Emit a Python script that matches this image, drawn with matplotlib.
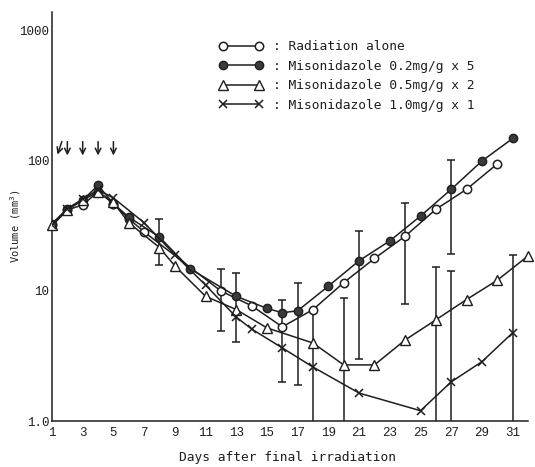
import matplotlib
matplotlib.use("Agg")
import matplotlib.pyplot as plt

# ---------------- data ----------------
days_open = [1, 2, 3, 4, 5, 6, 7, 12, 14, 16, 18, 20, 22, 24, 26, 28, 30]
vol_open = [32, 42, 46, 58, 47, 36, 28.5, 10, 7.7, 5.3, 7.2, 11.6, 17.8, 26.4, 42.5, 60.6, 95]

days_filled = [1, 2, 3, 4, 5, 6, 8, 10, 13, 15, 16, 17, 19, 21, 23, 25, 27, 29, 31]
vol_filled = [33, 43, 50, 65, 47, 37, 26, 14.8, 9.1, 7.35, 6.8, 7.05, 10.9, 17.1, 24.3, 37.7, 60.6, 100, 149]

days_tri = [1, 2, 3, 4, 5, 6, 8, 9, 11, 13, 15, 18, 20, 22, 24, 26, 28, 30, 32]
vol_tri = [32, 42, 50, 58, 48, 33.5, 21.6, 15.6, 9.1, 7.2, 5.2, 3.98, 2.7, 2.7, 4.2, 6.0, 8.6, 12.1, 18.6]

days_x = [1, 2, 3, 4, 5, 7, 9, 11, 13, 14, 16, 18, 21, 25, 27, 29, 31]
vol_x = [32, 43, 51, 60, 52, 33.5, 19, 11.1, 6.3, 5.1, 3.65, 2.6, 1.64, 1.2, 2.0, 2.86, 4.77]

err_days = [8, 12, 13, 16, 17, 18, 20, 21, 24, 26, 27, 27, 31]
err_low = [15.8, 4.9, 4.07, 2.0, 1.89, 0.5, 0.5, 2.98, 7.9, 0.5, 19.1, 0.5, 0.5]
err_high = [36, 14.7, 13.7, 8.5, 11.6, 7.2, 8.8, 29, 47.5, 15.4, 101, 14.3, 18.9]

arrow_days = [1, 2, 3, 4, 5]

labels = [": Radiation alone",
          ": Misonidazole 0.2mg/g x 5",
          ": Misonidazole 0.5mg/g x 2",
          ": Misonidazole 1.0mg/g x 1"]

xtick_vals = list(range(1, 32, 2))
ytick_vals = [1, 10, 100, 1000]
ytick_labels = ["1.0", "10", "100", "1000"]

# ---------------- figure ----------------
ink = "#1e1e1e"
fig = plt.figure(figsize=(5.35, 4.67), dpi=100)
ax = fig.add_axes([52/535, 1-421/467, 476/535, 409/467])
ax.set_yscale("log")
ax.set_xlim(1, 32)
ax.set_ylim(1.0, 1400)

lw = 1.1
ms = 6.0
h_open, = ax.plot(days_open, vol_open, '-', color=ink, lw=lw, marker='o', ms=ms,
                  mfc='white', mec=ink, mew=1.1, zorder=4)
h_fill, = ax.plot(days_filled, vol_filled, '-', color=ink, lw=lw, marker='o', ms=ms,
                  mfc='#3a3a3a', mec=ink, mew=1.0, zorder=4)
h_tri, = ax.plot(days_tri, vol_tri, '-', color=ink, lw=lw, marker='^', ms=ms+0.5,
                 mfc='white', mec=ink, mew=1.0, zorder=4, clip_on=False)
h_x, = ax.plot(days_x, vol_x, '-', color=ink, lw=lw, marker='x', ms=ms,
               mec=ink, mew=1.1, zorder=4)

for d, lo, hi in zip(err_days, err_low, err_high):
    ax.errorbar([d], [lo], yerr=[[0], [hi - lo]], fmt='none', ecolor=ink,
                elinewidth=1.1, capsize=3, capthick=1.1, zorder=3)

# irradiation arrows
for i, d in enumerate(arrow_days):
    if i == 0:
        ax.annotate("", xy=(d + 0.3, 107), xytext=(d + 0.7, 148),
                    arrowprops=dict(arrowstyle='->', color=ink, lw=1.1))
    else:
        ax.annotate("", xy=(d, 105), xytext=(d, 148),
                    arrowprops=dict(arrowstyle='->', color=ink, lw=1.1))

# axes styling
for s in ['top', 'right']:
    ax.spines[s].set_visible(False)
for s in ['left', 'bottom']:
    ax.spines[s].set_color(ink)
    ax.spines[s].set_linewidth(1.1)

tick_font = dict(family="Liberation Mono", size=9)
ax.set_xticks(xtick_vals)
ax.set_xticklabels([str(v) for v in xtick_vals], **tick_font)
ax.set_yticks(ytick_vals)
ax.set_yticklabels(ytick_labels, **tick_font)
ax.minorticks_off()
ax.tick_params(axis='both', length=0, colors=ink)
ax.tick_params(axis='x', pad=4)
ax.tick_params(axis='y', pad=2)

lab_font = dict(family="DejaVu Sans Mono", color=ink)
ax.set_xlabel("Days after final irradiation", fontsize=9.3, **lab_font)
ax.xaxis.set_label_coords(0.494, -0.073)
ax.set_ylabel("Volume (mm$^3$)", fontsize=7.5, **lab_font)
ax.yaxis.set_label_coords(-0.061, 0.477)

leg = ax.legend([h_open, h_fill, h_tri, h_x], labels, numpoints=2,
                handlelength=3.4, handletextpad=0.78, labelspacing=0.5,
                frameon=False, loc='upper left',
                bbox_to_anchor=(214/535, 1 - 35/467), bbox_transform=fig.transFigure,
                prop=dict(family="DejaVu Sans Mono", size=9.3), borderaxespad=0)
for t in leg.get_texts():
    t.set_color(ink)

fig.savefig("out.png", dpi=100, facecolor='white')
